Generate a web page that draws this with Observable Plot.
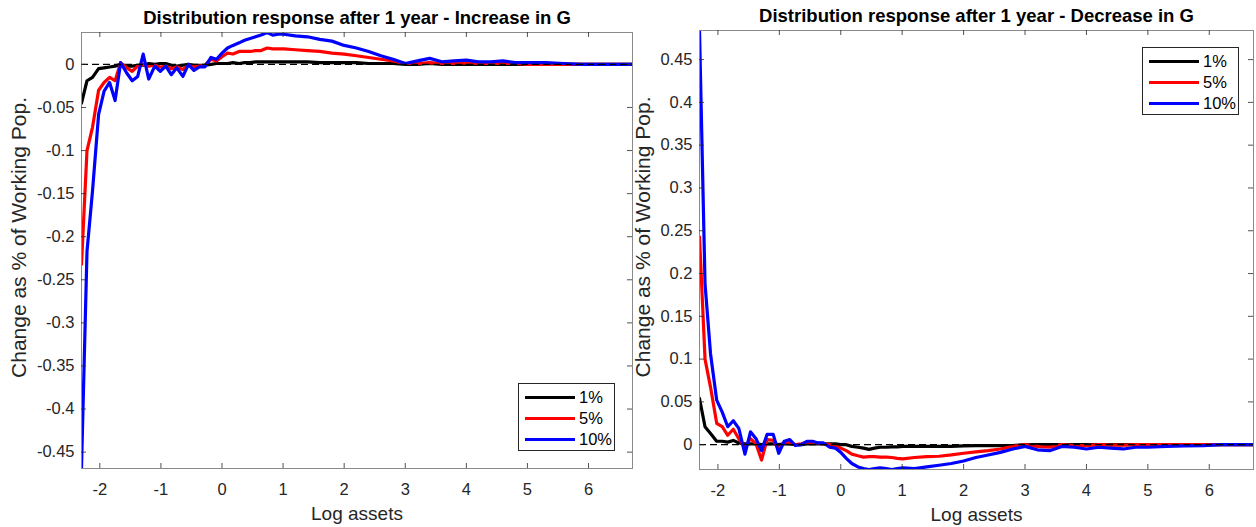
<!DOCTYPE html>
<html>
<head>
<meta charset="utf-8">
<script src="https://cdn.jsdelivr.net/npm/d3@7"></script>
<script src="https://cdn.jsdelivr.net/npm/@observablehq/plot@0.6"></script>
<style>
  html, body { margin: 0; padding: 0; background: #ffffff; }
  body { width: 1256px; height: 527px; overflow: hidden; position: relative;
         font-family: "Liberation Sans", Arial, Helvetica, sans-serif; }
  .panel { position: absolute; top: 0; }
  .legend { position: absolute; box-sizing: border-box; border: 1px solid #262626; background: #fff; }
  .legend .row { position: absolute; left: 0; height: 20px; display: flex; align-items: center; }
  .legend .swatch { display: inline-block; width: 50px; height: 3px; margin-left: 6px; margin-right: 4px; }
  .legend .lab { font-size: 16.5px; color: #000; line-height: 20px; }
</style>
</head>
<body>
<div id="left" class="panel" style="left:0px;width:640px"></div>
<div id="right" class="panel" style="left:630px;width:626px"></div>
<script>
// ---- data ----
const assets = [-2.30,-2.21,-2.12,-2.02,-1.93,-1.84,-1.75,-1.66,-1.56,-1.47,-1.38,-1.29,-1.20,-1.10,-1.01,-0.92,-0.83,-0.74,-0.64,-0.55,-0.46,-0.37,-0.28,-0.18,-0.09,0.00,0.09,0.18,0.28,0.37,0.46,0.55,0.64,0.74,0.83,0.92,1.01,1.2,1.4,1.6,1.8,2.0,2.2,2.4,2.6,2.8,3.0,3.2,3.4,3.6,3.8,4.0,4.2,4.4,4.6,4.8,5.0,5.3,5.6,5.9,6.2,6.5,6.72];

// Increase in G
const inc1 = [-0.045,-0.019,-0.015,-0.005,-0.004,-0.003,-0.002,0.000,-0.002,-0.002,-0.001,-0.001,0.001,0.000,0.001,0.001,-0.001,-0.002,-0.001,0.000,-0.001,-0.001,-0.001,0.000,0.001,0.001,0.001,0.002,0.001,0.002,0.002,0.003,0.003,0.003,0.003,0.003,0.003,0.003,0.003,0.002,0.002,0.002,0.002,0.001,0.001,0.001,0.000,0.000,0.001,0.000,0.000,0.000,0.000,0.000,0.000,0.000,0.000,0.000,0.000,0.000,0.000,0.000,0.000];
const inc5 = [-0.232,-0.100,-0.073,-0.030,-0.021,-0.015,-0.019,0.002,-0.004,-0.008,-0.002,0.000,-0.002,-0.001,-0.003,-0.002,-0.005,-0.003,-0.006,-0.001,-0.003,-0.002,-0.001,0.006,0.004,0.009,0.013,0.012,0.015,0.015,0.015,0.016,0.016,0.019,0.018,0.018,0.018,0.017,0.016,0.015,0.013,0.012,0.010,0.008,0.006,0.004,0.001,0.001,0.002,0.001,0.001,0.002,0.001,0.001,0.001,0.001,0.000,0.000,0.000,0.000,0.000,0.000,0.000];
const inc10 = [-0.468,-0.217,-0.147,-0.058,-0.031,-0.021,-0.042,0.002,-0.010,-0.019,-0.014,0.012,-0.017,-0.002,-0.008,-0.002,-0.012,-0.004,-0.014,0.000,-0.007,-0.003,-0.003,0.008,0.006,0.013,0.019,0.022,0.025,0.028,0.030,0.032,0.034,0.037,0.034,0.035,0.035,0.033,0.032,0.029,0.027,0.022,0.019,0.015,0.010,0.006,0.001,0.004,0.007,0.003,0.004,0.005,0.003,0.003,0.004,0.002,0.002,0.002,0.001,0.000,0.000,0.000,0.000];

// Decrease in G
const dec1 = [0.054,0.021,0.013,0.004,0.004,0.003,0.005,0.002,0.001,0.001,0.001,0.000,0.001,0.001,0.000,0.001,0.001,0.000,0.000,0.001,0.001,0.001,0.001,0.001,0.001,0.000,0.000,-0.002,-0.003,-0.004,-0.0055,-0.004,-0.003,-0.003,-0.0025,-0.0025,-0.002,-0.002,-0.002,-0.002,-0.002,-0.0015,-0.001,-0.001,-0.001,-0.001,0.000,0.000,0.000,0.000,0.000,0.000,0.000,0.000,0.000,0.000,0.000,0.000,0.000,0.000,0.000,0.000,0.000];
const dec5 = [0.243,0.100,0.067,0.025,0.021,0.011,0.018,0.007,-0.003,0.007,0.001,-0.018,0.006,0.005,-0.005,0.003,0.003,0.000,0.001,0.003,0.003,0.002,0.001,0.000,-0.002,-0.004,-0.007,-0.011,-0.013,-0.0145,-0.014,-0.014,-0.0145,-0.0145,-0.015,-0.016,-0.0165,-0.015,-0.014,-0.0135,-0.012,-0.010,-0.0085,-0.007,-0.005,-0.002,0.000,-0.002,-0.003,0.000,-0.001,-0.001,0.000,-0.0005,-0.0005,0.000,0.000,0.000,0.000,0.000,0.000,0.000,0.000];
const dec10 = [0.484,0.188,0.106,0.052,0.038,0.021,0.028,0.019,-0.011,0.015,0.007,-0.007,0.012,0.012,-0.010,0.004,0.006,-0.001,0.000,0.004,0.004,0.002,0.002,-0.003,-0.004,-0.009,-0.016,-0.022,-0.026,-0.028,-0.029,-0.028,-0.027,-0.028,-0.029,-0.028,-0.027,-0.028,-0.026,-0.024,-0.022,-0.019,-0.015,-0.012,-0.009,-0.005,-0.002,-0.006,-0.007,-0.002,-0.003,-0.005,-0.003,-0.004,-0.005,-0.003,-0.003,-0.002,-0.0015,-0.001,0.000,0.000,0.000];

const seriesNames = ["1%", "5%", "10%"];
const seriesColors = ["#000000", "#ff0000", "#0000ff"];
const xTicks = [-2, -1, 0, 1, 2, 3, 4, 5, 6];
const yTicksInc = [0, -0.05, -0.1, -0.15, -0.2, -0.25, -0.3, -0.35, -0.4, -0.45];
const yTicksDec = [0, 0.05, 0.1, 0.15, 0.2, 0.25, 0.3, 0.35, 0.4, 0.45];
const titleInc = "Distribution response after 1 year - Increase in G";
const titleDec = "Distribution response after 1 year - Decrease in G";
const xLabel = "Log assets";
const yLabel = "Change as % of Working Pop.";

const FONT = '"Liberation Sans", Arial, Helvetica, sans-serif';

function makePanel(cfg) {
  const H = 527;
  const pw = cfg.width - cfg.ml - cfg.mr;
  const ph = H - cfg.mt - cfg.mb;
  const rows = [];
  cfg.series.forEach((vals, i) => vals.forEach((v, j) => rows.push({x: assets[j], y: v, s: seriesNames[i]})));
  return Plot.plot({
    width: cfg.width, height: H,
    marginLeft: cfg.ml, marginRight: cfg.mr, marginTop: cfg.mt, marginBottom: cfg.mb,
    style: {background: "transparent", fontFamily: FONT, color: "#262626", overflow: "visible"},
    x: {domain: [-2.30, 6.72], label: null},
    y: {domain: cfg.ydomain, label: null},
    color: {domain: seriesNames, range: seriesColors},
    marks: [
      Plot.line(rows, {x: "x", y: "y", z: "s", stroke: "s", strokeWidth: 3.2, clip: true}),
      Plot.ruleY([0], {stroke: "#000", strokeWidth: 1.2, strokeDasharray: "7,4", clip: true}),
      Plot.frame({stroke: "#8a8a8a", strokeWidth: 1}),
      Plot.tickX(xTicks, {x: d => d, insetTop: ph - 5, stroke: "#262626", strokeWidth: 0.8}),
      Plot.tickX(xTicks, {x: d => d, insetBottom: ph - 5, stroke: "#262626", strokeWidth: 0.8}),
      Plot.tickY(cfg.yticks, {y: d => d, insetRight: pw - 5, stroke: "#262626", strokeWidth: 0.8}),
      Plot.tickY(cfg.yticks, {y: d => d, insetLeft: pw - 5, stroke: "#262626", strokeWidth: 0.8}),
      Plot.axisX(xTicks, {tickSize: 0, tickPadding: 15, fontSize: 16.5, label: null, tickFormat: d => String(d)}),
      Plot.axisY(cfg.yticks, {tickSize: 0, tickPadding: 7, fontSize: 16.5, label: null, tickFormat: d => String(d)}),
      Plot.text([cfg.title], {frameAnchor: "top", lineAnchor: "bottom", dy: -8.7, fontSize: 18.5, fontWeight: "bold", fill: "#000"}),
      Plot.text([xLabel], {frameAnchor: "bottom", lineAnchor: "middle", dy: 45, fontSize: 19, fill: "#262626"}),
      Plot.text([yLabel], {frameAnchor: "left", textAnchor: "middle", lineAnchor: "middle", rotate: -90, dx: cfg.ylabDx, dy: -13, fontSize: 21, fill: "#262626"})
    ]
  });
}

function makeLegend(parent, left, top) {
  const box = d3.select(parent).append("div").attr("class", "legend")
    .style("left", left + "px").style("top", top + "px")
    .style("width", "97px").style("height", "68px");
  seriesNames.forEach((name, i) => {
    const row = box.append("div").attr("class", "row").style("top", (3 + i * 21) + "px");
    row.append("span").attr("class", "swatch").style("background", seriesColors[i]);
    row.append("span").attr("class", "lab").text(name);
  });
}

document.getElementById("left").appendChild(makePanel({
  width: 640, ml: 81, mr: 8, mt: 32, mb: 59,
  ydomain: [-0.469, 0.037], yticks: yTicksInc, title: titleInc,
  series: [inc1, inc5, inc10], ylabDx: -62
}));
document.getElementById("right").appendChild(makePanel({
  width: 626, ml: 69, mr: 3, mt: 30, mb: 58,
  ydomain: [-0.029, 0.484], yticks: yTicksDec, title: titleDec,
  series: [dec1, dec5, dec10], ylabDx: -56
}));
makeLegend(document.body, 518, 383);
makeLegend(document.body, 1142, 47);
</script>
</body>
</html>
